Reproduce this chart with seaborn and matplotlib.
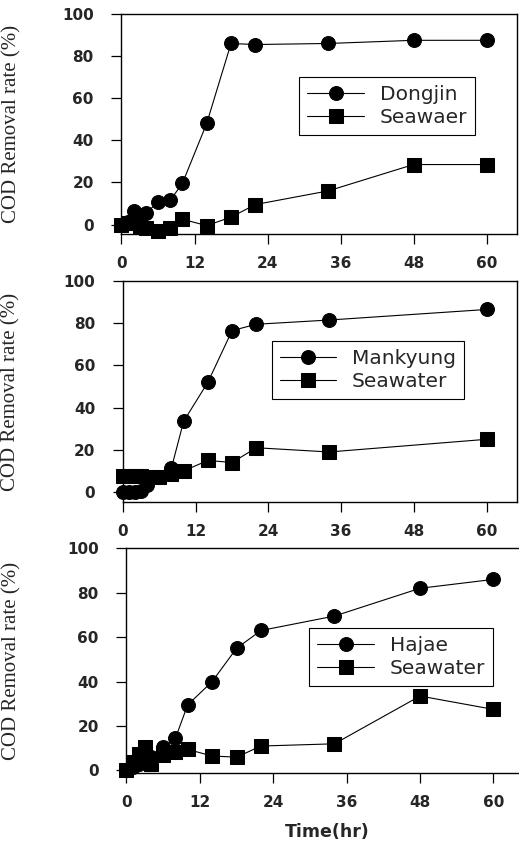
import matplotlib
matplotlib.use("Agg")
import matplotlib.pyplot as plt
import seaborn as sns
import pandas as pd

# ---------------------------------------------------
# DATA
# ---------------------------------------------------

hours_dongjin = [0, 1, 2, 3, 4, 6, 8, 10, 14, 18, 22, 34, 48, 60]
dongjin = [0, 1, 6.5, 4, 5.5, 10.5, 11.5, 19.5, 48, 86, 85.5, 86, 87.5, 87.5]
seawater_dongjin = [0, 0.5, 0.5, -0.5, -1.5, -3, -1.5, 2.5, -0.5, 3.5, 9.5, 16, 28.5, 28.5]

hours_mankyung = [0, 1, 2, 3, 4, 6, 8, 10, 14, 18, 22, 34, 60]
mankyung = [0, 0, 0, 0.5, 3.5, 7, 11.5, 33.5, 52, 76.5, 79.5, 81.5, 86.5]
seawater_mankyung = [7.5, 7.5, 7.5, 7.5, 7, 7, 8.5, 10, 15, 14, 21, 19, 25]

hours_hajae = [0, 1, 2, 3, 4, 6, 8, 10, 14, 18, 22, 34, 48, 60]
hajae = [0, 1.5, 3, 4.5, 6, 10.5, 14.5, 29.5, 40, 55, 63, 69.5, 82, 86]
seawater_hajae = [0, 4, 7.5, 10.5, 3, 7, 8.5, 9.5, 6.5, 6, 11, 12, 33.5, 27.5]

x_ticks = [0, 12, 24, 36, 48, 60]
y_ticks = [0, 20, 40, 60, 80, 100]

panels = [
    ("Dongjin", "Seawaer", hours_dongjin, dongjin, seawater_dongjin),
    ("Mankyung", "Seawater", hours_mankyung, mankyung, seawater_mankyung),
    ("Hajae", "Seawater", hours_hajae, hajae, seawater_hajae),
]

# ---------------------------------------------------
# STYLE
# ---------------------------------------------------

sns.set_style("ticks")
plt.rcParams["font.family"] = ["DejaVu Sans"]

fig = plt.figure(figsize=(5.19, 8.43), dpi=100)

# axes rectangles [left, bottom, width, height] in figure fraction
rects = [
    [0.2341, 0.7224, 0.7620, 0.2610],
    [0.2370, 0.4045, 0.7590, 0.2622],
    [0.2437, 0.0834, 0.7660, 0.2662],
]
ylims = [(-4.5, 100), (-4.7, 100), (-1, 100)]
legend_anchor = [(0.4496, 0.712), (0.377, 0.7285), (0.46, 0.646)]
ylabel_x = [-0.254, -0.259, -0.265]

for i, (site, sea, hours, site_vals, sea_vals) in enumerate(panels):

    ax = fig.add_axes(rects[i])

    df = pd.DataFrame({"hr": hours, "site": site_vals, "sea": sea_vals})

    sns.lineplot(
        x="hr", y="site", data=df, ax=ax,
        color="black", linewidth=0.8,
        marker="o", markersize=10,
        markeredgecolor="black", markerfacecolor="black",
        clip_on=False, zorder=3, label=site
    )

    sns.lineplot(
        x="hr", y="sea", data=df, ax=ax,
        color="black", linewidth=0.8,
        marker="s", markersize=9.5,
        markeredgecolor="black", markerfacecolor="black",
        clip_on=False, zorder=3, label=sea
    )

    ax.set_xlim(0, 65)
    ax.set_ylim(*ylims[i])
    ax.set_xticks(x_ticks)
    ax.set_yticks(y_ticks)

    ax.tick_params(
        axis="both", direction="out", length=7, width=0.9,
        labelsize=11, color="black"
    )
    ax.tick_params(axis="x", pad=9)
    ax.tick_params(axis="y", pad=13)

    for lab in ax.get_xticklabels() + ax.get_yticklabels():
        lab.set_fontweight("bold")

    for sp in ax.spines.values():
        sp.set_visible(True)
        sp.set_color("black")
        sp.set_linewidth(1.0)

    ax.set_ylabel(
        "COD Removal rate (%)",
        fontsize=15,
        family=["Liberation Serif", "DejaVu Serif"]
    )
    ax.yaxis.set_label_coords(ylabel_x[i], 0.5)

    if i == 2:
        ax.set_xlabel("Time(hr)", fontsize=12.5, fontweight="bold")
        ax.xaxis.set_label_coords(0.504, -0.225)
    else:
        ax.set_xlabel("")

    leg = ax.legend(
        loc="upper left",
        bbox_to_anchor=legend_anchor[i],
        borderaxespad=0,
        fontsize=14.5,
        frameon=True,
        fancybox=False,
        handlelength=2.8,
        handletextpad=0.8,
        labelspacing=0.2,
        borderpad=0.4,
    )
    leg.get_frame().set_edgecolor("black")
    leg.get_frame().set_linewidth(0.8)
    leg.get_frame().set_alpha(1)

plt.savefig("out.png", dpi=100)
plt.close()
